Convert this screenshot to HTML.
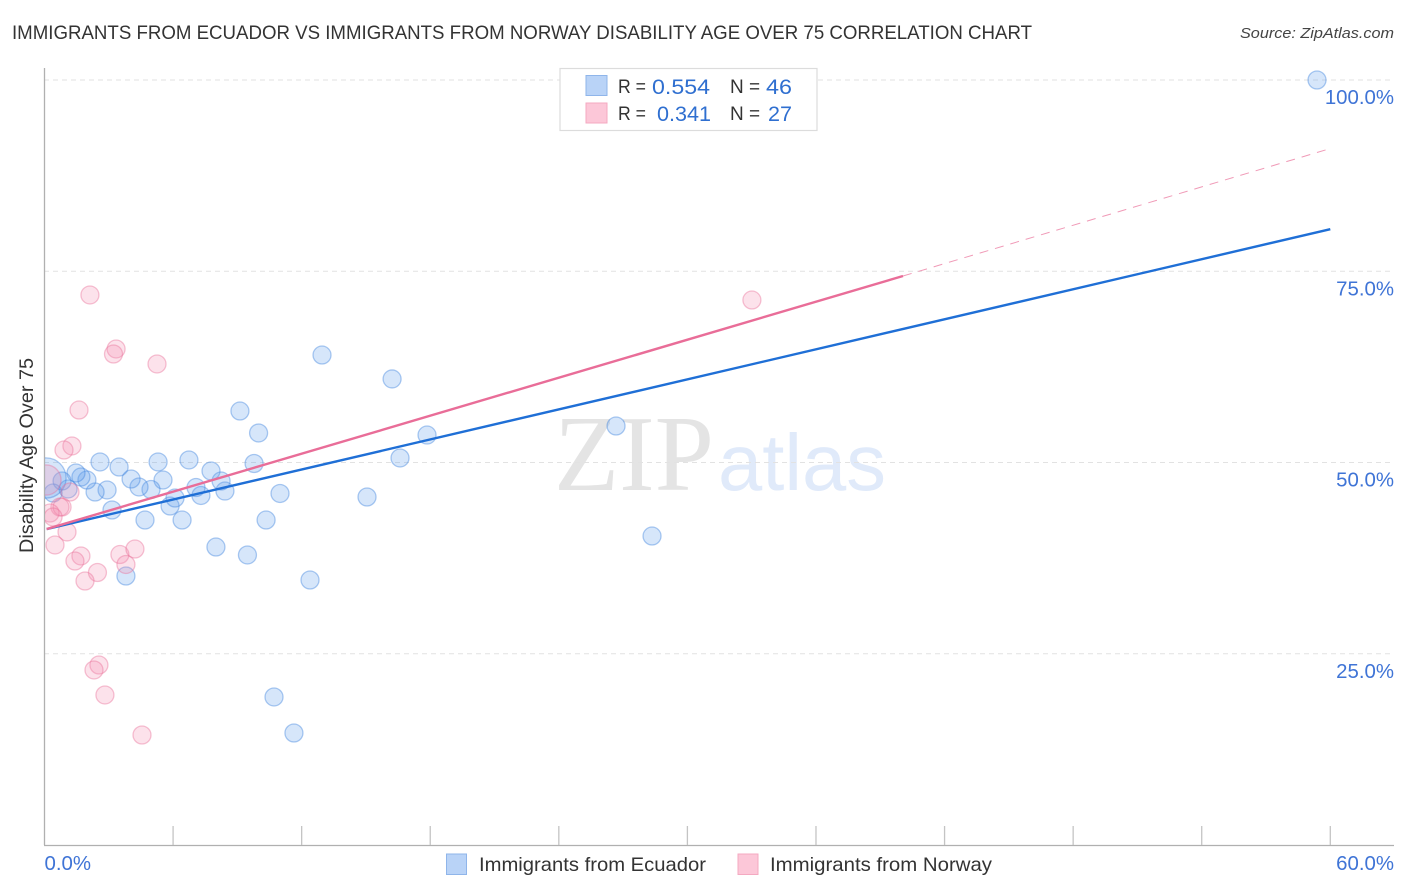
<!DOCTYPE html>
<html lang="en">
<head>
<meta charset="utf-8">
<title>Immigrants from Ecuador vs Immigrants from Norway Disability Age Over 75 Correlation Chart</title>
<style>
html,body{margin:0;padding:0;background:#fff;width:1406px;height:892px;overflow:hidden}
svg{display:block;font-family:"Liberation Sans",sans-serif}
</style>
</head>
<body>
<svg id="chart" width="1406" height="892" viewBox="0 0 1406 892" xmlns="http://www.w3.org/2000/svg">
  <defs>
    <clipPath id="plot-clip"><rect x="45" y="60" width="1349" height="785"/></clipPath>
  </defs>
  <text x="12" y="39" font-size="19.5" fill="#333" textLength="1020" lengthAdjust="spacingAndGlyphs">IMMIGRANTS FROM ECUADOR VS IMMIGRANTS FROM NORWAY DISABILITY AGE OVER 75 CORRELATION CHART</text>
  <text x="1394" y="38" font-size="15" font-style="italic" fill="#444" text-anchor="end" textLength="154" lengthAdjust="spacingAndGlyphs">Source: ZipAtlas.com</text>

  <g>
    <text x="554" y="490" font-family="'Liberation Serif',serif" font-size="108" fill="#e4e4e4" textLength="160" lengthAdjust="spacingAndGlyphs">ZIP</text>
    <text x="718" y="490" font-size="80" fill="#e0eafa" textLength="168" lengthAdjust="spacingAndGlyphs">atlas</text>
  </g>

  <g id="grid"></g>
  <g id="axes"></g>
  <g id="points" clip-path="url(#plot-clip)"></g>
  <g id="trends"></g>
  <g id="ylabels"></g>
  <g id="xlabels"></g>

  <text transform="translate(33 455.5) rotate(-90)" font-size="19.5" fill="#333" text-anchor="middle" textLength="195" lengthAdjust="spacingAndGlyphs">Disability Age Over 75</text>

  <g>
    <rect x="560" y="68.5" width="257" height="62" fill="#fff" stroke="#dcdcdc" stroke-width="1.2"/>
    <rect x="586" y="75.5" width="21" height="20" fill="#b9d3f7" stroke="#8fb5ea" stroke-width="1"/>
    <rect x="586" y="103" width="21" height="20" fill="#fcc7d8" stroke="#f4a9c1" stroke-width="1"/>
    <text x="618" y="93" font-size="19" fill="#333" textLength="28" lengthAdjust="spacingAndGlyphs">R =</text>
    <text x="652" y="94" font-size="21.5" fill="#2f6fd0" textLength="58" lengthAdjust="spacingAndGlyphs">0.554</text>
    <text x="730" y="93" font-size="19" fill="#333">N =</text>
    <text x="766" y="94" font-size="21.5" fill="#2f6fd0" textLength="26" lengthAdjust="spacingAndGlyphs">46</text>
    <text x="618" y="120" font-size="19" fill="#333" textLength="28" lengthAdjust="spacingAndGlyphs">R =</text>
    <text x="657" y="121" font-size="21.5" fill="#2f6fd0" textLength="54" lengthAdjust="spacingAndGlyphs">0.341</text>
    <text x="730" y="120" font-size="19" fill="#333">N =</text>
    <text x="768" y="121" font-size="21.5" fill="#2f6fd0" textLength="24" lengthAdjust="spacingAndGlyphs">27</text>
  </g>

  <g>
    <rect x="446.5" y="854" width="20" height="20.5" fill="#b9d3f7" stroke="#8fb5ea" stroke-width="1"/>
    <text x="479" y="871" font-size="19.5" fill="#333" textLength="227" lengthAdjust="spacingAndGlyphs">Immigrants from Ecuador</text>
    <rect x="738" y="854" width="20" height="20.5" fill="#fcc7d8" stroke="#f4a9c1" stroke-width="1"/>
    <text x="770" y="871" font-size="19.5" fill="#333" textLength="222" lengthAdjust="spacingAndGlyphs">Immigrants from Norway</text>
  </g>
</svg>
<script>
// Chart data (percent units)
const ecuadorX = [59.38,12.95,16.22,9.12,9.99,17.85,26.67,16.59,28.35,15.05,9.78,10.99,10.34,9.47,8.0,12.39,10.71,11.64,3.80,4.69,6.42,5.86,6.09,7.30,7.07,8.42,8.24,7.77,6.74,5.30,5.53,4.97,4.41,4.04,3.48,2.59,2.92,2.36,1.98,1.70,1.47,3.15,1.10,0.82,0.40,0.07];
const ecuadorY = [100,64.05,60.92,56.73,53.86,53.59,54.77,50.59,40.39,45.49,49.87,45.95,42.48,37.91,38.95,34.64,19.35,14.64,35.16,42.48,42.48,44.31,45.36,45.69,46.73,46.27,47.58,48.89,50.33,50.07,47.71,46.47,46.80,47.84,49.41,50.07,46.41,46.14,47.71,48.10,48.63,43.79,46.54,47.58,46.01,47.97];
const ecuadorWeight = [1,1,1,1,1,1,1,1,1,1,1,1,1,1,1,1,1,1,1,1,1,1,1,1,1,1,1,1,1,1,1,1,1,1,1,1,1,1,1,1,1,1,1,1,1,5];
const norwayX = [33.01,2.12,3.34,3.22,5.25,1.61,1.28,0.91,1.19,0.72,0.82,0.26,0.40,1.05,0.49,1.70,1.42,2.47,1.89,3.52,4.22,3.80,2.54,2.31,2.82,4.55,0.07];
const norwayY = [71.24,71.90,64.84,64.18,62.88,56.86,52.16,51.63,46.14,44.18,44.18,43.40,42.88,40.92,39.22,37.78,37.12,35.62,34.51,37.97,38.69,36.67,23.53,22.88,19.61,14.38,47.71];
const norwayWeight = [1,1,1,1,1,1,1,1,1,1,1,1,1,1,1,1,1,1,1,1,1,1,1,1,1,1,2.8];
const ecuadorTrendX = [0.1,60];
const ecuadorTrendY = [41.3,80.5];
const norwayTrendX = [0.1,40.06];
const norwayTrendY = [41.3,74.38];
const norwayDashX = [40.06,60.07];
const norwayDashY = [74.38,91.1];
const yTicks = [25,50,75,100];
const yTickLabels = ["25.0%","50.0%","75.0%","100.0%"];
const xTicks = [0,6,12,18,24,30,36,42,48,54,60];
const xEndTicks = [0,60];
const xEndLabels = ["0.0%","60.0%"];

const NS = "http://www.w3.org/2000/svg";
const xScale = v => 44.5 + v * 21.43;
const yScale = v => 845 - v * 7.65;
const radius = w => 9 * Math.sqrt(w);

function make(tag, parent, attrs) {
  const el = document.createElementNS(NS, tag);
  for (const k in attrs) el.setAttribute(k, attrs[k]);
  parent.appendChild(el);
  return el;
}

const grid = document.getElementById("grid");
yTicks.forEach(t => {
  const el = make("line", grid, {x1:44, x2:1394, y1:yScale(t), y2:yScale(t), stroke:"#e2e2e2", "stroke-width":1, "stroke-dasharray":"5 4"});
  
  
});

const axes = document.getElementById("axes");
const yAxis = make("line", axes, {x1:44.5, x2:44.5, y1:68, y2:845, stroke:"#b0b0b0", "stroke-width":1.3});


const xAxis = make("line", axes, {x1:44, x2:1394, y1:845.5, y2:845.5, stroke:"#b0b0b0", "stroke-width":1.3});


xTicks.forEach(t => {
  if (t === 0) return;
  const el = make("line", axes, {x1:xScale(t), x2:xScale(t), y1:826, y2:845, stroke:"#c4c4c4", "stroke-width":1.3});
  
  
});

const points = document.getElementById("points");
function drawSeries(xs, ys, ws, fill, stroke, name) {
  xs.forEach((x, i) => {
    const c = make("circle", points, {cx:xScale(x), cy:yScale(ys[i]), r:radius(ws[i]), fill:fill, "fill-opacity":0.25, stroke:stroke, "stroke-opacity":0.42, "stroke-width":1.3});
    
    
  });
}
drawSeries(ecuadorX, ecuadorY, ecuadorWeight, "#5b9bec", "#3f83dd", "ecuador-point");
drawSeries(norwayX, norwayY, norwayWeight, "#f58bae", "#ea6f98", "norway-point");

const trends = document.getElementById("trends");
const dash = make("line", trends, {x1:xScale(norwayDashX[0]), y1:yScale(norwayDashY[0]), x2:xScale(norwayDashX[1]), y2:yScale(norwayDashY[1]), stroke:"#ea6f98", "stroke-width":1, "stroke-dasharray":"9 7", "stroke-opacity":0.7});


const tBlue = make("line", trends, {x1:xScale(ecuadorTrendX[0]), y1:yScale(ecuadorTrendY[0]), x2:xScale(ecuadorTrendX[1]), y2:yScale(ecuadorTrendY[1]), stroke:"#1f6fd6", "stroke-width":2.4});


const tPink = make("line", trends, {x1:xScale(norwayTrendX[0]), y1:yScale(norwayTrendY[0]), x2:xScale(norwayTrendX[1]), y2:yScale(norwayTrendY[1]), stroke:"#e96d98", "stroke-width":2.4});



const ylabels = document.getElementById("ylabels");
yTicks.forEach((t, i) => {
  const el = make("text", ylabels, {x:1394, y:yScale(t) + 24, "font-size":20.4, fill:"#3f74d6", "text-anchor":"end"});
  el.textContent = yTickLabels[i];
  
  
});
const xlabels = document.getElementById("xlabels");
xEndTicks.forEach((t, i) => {
  const el = make("text", xlabels, {x: i === 0 ? xScale(t) : 1394, y:870, "font-size":20.4, fill:"#3f74d6", "text-anchor": i === 0 ? "start" : "end"});
  el.textContent = xEndLabels[i];
  
  
});
</script>
</body>
</html>
